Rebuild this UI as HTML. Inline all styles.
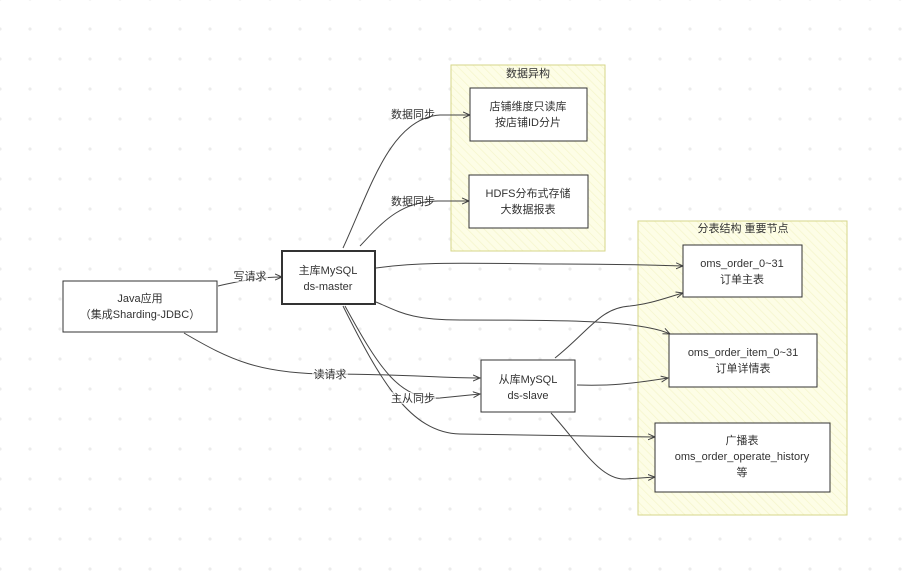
<!DOCTYPE html>
<html><head><meta charset="utf-8"><style>
html,body{margin:0;padding:0;background:#fff;}
svg{display:block}
text{font-family:"Liberation Sans","Noto Sans CJK SC",sans-serif;font-size:11px;fill:#333;text-anchor:middle}
</style></head><body>
<svg width="911" height="585" viewBox="0 0 911 585" xmlns="http://www.w3.org/2000/svg">
<defs>
<pattern id="dots" width="30" height="30" patternUnits="userSpaceOnUse" x="0" y="-1">
<circle cx="0" cy="0" r="1.6" fill="#ececec"/><circle cx="30" cy="0" r="1.6" fill="#ececec"/>
<circle cx="0" cy="30" r="1.6" fill="#ececec"/><circle cx="30" cy="30" r="1.6" fill="#ececec"/>
</pattern>
<pattern id="hatch" width="6" height="6" patternUnits="userSpaceOnUse" patternTransform="rotate(-45)">
<rect width="6" height="6" fill="#fdfde6"/><line x1="0" y1="0" x2="0" y2="6" stroke="#f5f5cc" stroke-width="1.5"/>
</pattern>
<marker id="ar" markerWidth="8" markerHeight="8" refX="7" refY="4" orient="auto" markerUnits="userSpaceOnUse">
<path d="M0,1 L7,4 L0,7" fill="none" stroke="#444" stroke-width="1"/>
</marker>
</defs>
<rect width="911" height="585" fill="url(#dots)"/>

<rect x="451" y="65" width="154" height="186" fill="url(#hatch)" stroke="#d6d68a" stroke-width="1"/>
<text x="528" y="77">数据异构</text>
<rect x="638" y="221" width="209" height="294" fill="url(#hatch)" stroke="#d6d68a" stroke-width="1"/>
<text x="743" y="232">分表结构 重要节点</text>

<g fill="none" stroke="#444" stroke-width="1">
<path d="M218,286 C240,281 260,277 282,277" marker-end="url(#ar)"/>
<path d="M184,333 C230,360 260,374 330,374 C400,374 440,378 480,378" marker-end="url(#ar)"/>
<path d="M343,248 C370,190 390,118 440,115 L470,115" marker-end="url(#ar)"/>
<path d="M360,246 C380,225 400,200 440,201 L469,201" marker-end="url(#ar)"/>
<path d="M376,268 C420,262 450,263 560,264 C620,264 650,265 683,266" marker-end="url(#ar)"/>
<path d="M376,302 C400,312 410,320 460,320 C560,320 640,320 670,334" marker-end="url(#ar)"/>
<path d="M345,306 C380,370 400,400 440,398 L480,394" marker-end="url(#ar)"/>
<path d="M343,306 C380,380 410,433 460,434 C560,435 620,436 655,437" marker-end="url(#ar)"/>
<path d="M555,358 C590,330 600,308 630,306 C650,304 665,298 683,293" marker-end="url(#ar)"/>
<path d="M577,385 C610,386 630,384 668,378" marker-end="url(#ar)"/>
<path d="M551,413 C580,445 600,480 625,479 L655,477" marker-end="url(#ar)"/>
</g>
<g>
<rect x="232" y="270" width="36" height="12" fill="#fff" opacity="0.6"/>
<text x="250" y="280">写请求</text>
<rect x="312" y="368" width="36" height="12" fill="#fff" opacity="0.6"/>
<text x="330" y="378">读请求</text>
<text x="413" y="118">数据同步</text>
<text x="413" y="205">数据同步</text>
<rect x="390" y="392" width="46" height="12" fill="#fff" opacity="0.6"/>
<text x="413" y="402">主从同步</text>
</g>

<g stroke="#333" fill="#fff" stroke-width="1">
<rect x="63" y="281" width="154" height="51"/>
<rect x="282" y="251" width="93" height="53" stroke-width="2"/>
<rect x="481" y="360" width="94" height="52"/>
<rect x="470" y="88" width="117" height="53"/>
<rect x="469" y="175" width="119" height="53"/>
<rect x="683" y="245" width="119" height="52"/>
<rect x="669" y="334" width="148" height="53"/>
<rect x="655" y="423" width="175" height="69"/>
</g>
<text x="140" y="302">Java应用</text>
<text x="140" y="318">（集成Sharding-JDBC）</text>
<text x="328" y="274">主库MySQL</text>
<text x="328" y="290">ds-master</text>
<text x="528" y="383">从库MySQL</text>
<text x="528" y="399">ds-slave</text>
<text x="528" y="110">店铺维度只读库</text>
<text x="528" y="126">按店铺ID分片</text>
<text x="528" y="197">HDFS分布式存储</text>
<text x="528" y="213">大数据报表</text>
<text x="742" y="267">oms_order_0~31</text>
<text x="742" y="283">订单主表</text>
<text x="743" y="356">oms_order_item_0~31</text>
<text x="743" y="372">订单详情表</text>
<text x="742" y="444">广播表</text>
<text x="742" y="460">oms_order_operate_history</text>
<text x="742" y="476">等</text>
</svg>
</body></html>
